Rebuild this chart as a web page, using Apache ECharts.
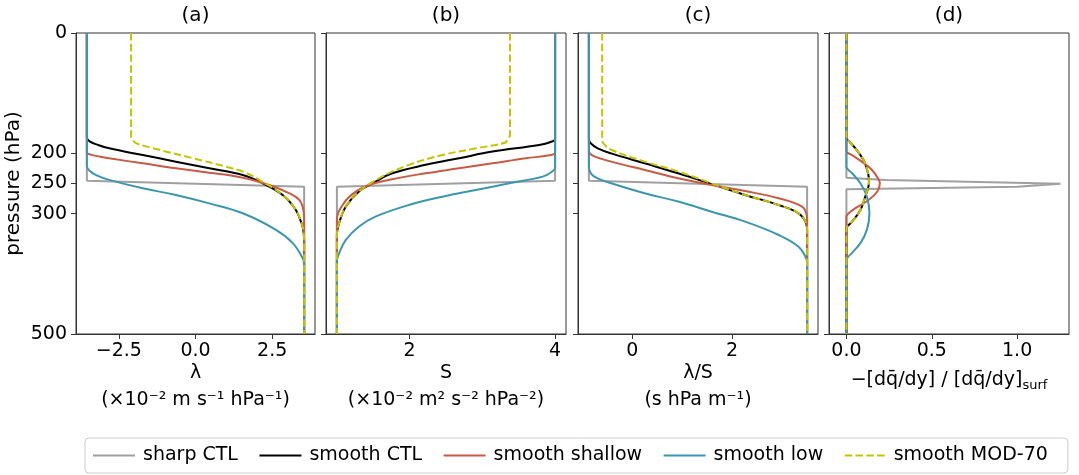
<!DOCTYPE html>
<html>
<head>
<meta charset="utf-8">
<script src="https://cdn.jsdelivr.net/npm/echarts@6/dist/echarts.min.js"></script>
<style>
html,body{margin:0;padding:0;background:#fff;}
#chart{width:1079px;height:475px;}
</style>
</head>
<body>
<div id="chart"></div>
<script>
// ---- data (value, pressure in hPa) ----
const seriesNames = ['sharp CTL', 'smooth CTL', 'smooth shallow', 'smooth low', 'smooth MOD-70'];
const panelTitles = ['(a)', '(b)', '(c)', '(d)'];
const pressureTicks = [0, 200, 250, 300, 500];
const ticksA = [-2.5, 0, 2.5];
const ticksB = [2, 4];
const ticksC = [0, 2];
const ticksD = [0, 0.5, 1.0];

// (a) lambda
const lamSharp = [[-3.54,0],[-3.54,245.3],[3.54,255.3],[3.54,500]];
const lamCTL = [[-3.54,0],[-3.54,174],[-3.45,180],[-3.2,185.5],[-2.81,191.6],[-1.72,202.7],[-0.64,213.7],[0.45,224.8],[1.54,235.9],[2.19,249.7],[2.84,269],[3.27,294],[3.49,321.7],[3.53,335],[3.54,345],[3.54,500]];
const lamShallow = [[-3.54,0],[-3.54,198],[-3.42,202],[-3.1,205.5],[-2.81,208.2],[-1.72,216.5],[-0.64,224.8],[0.45,232],[1.54,240.3],[2.40,252.5],[3.06,266.3],[3.38,277],[3.49,288.5],[3.53,300],[3.54,310],[3.54,500]];
const lamLow = [[-3.54,0],[-3.54,221],[-3.47,228],[-3.24,236],[-2.81,244],[-1.72,258],[-0.64,269],[0.45,283],[1.54,299.5],[2.62,327],[3.17,349],[3.49,374],[3.54,385],[3.54,500]];
const lamMOD = [[-2.10,0],[-2.10,171],[-2.05,177],[-1.94,183],[-1.18,194],[-0.09,208],[0.99,222],[1.63,232],[2.08,244],[2.84,269],[3.27,294],[3.49,321.7],[3.53,335],[3.54,345],[3.54,500]];

// (b) S
const sSharp = [[4,0],[4,245.3],[1,255.3],[1,500]];
const sCTL = [[4,0],[4,176],[3.94,181],[3.78,186],[3.14,197],[2.68,208],[2.22,219],[1.76,233],[1.53,247],[1.30,263.6],[1.12,288.5],[1.03,316],[1.0,335],[1,500]];
const sShallow = [[4,0],[4,198],[3.92,203],[3.6,208],[3.14,216.5],[2.68,224.8],[2.22,233],[1.76,243],[1.39,255],[1.17,272],[1.05,291],[1.01,302],[1,312],[1,500]];
const sLow = [[4,0],[4,224],[3.95,231],[3.83,238.6],[3.37,249.7],[2.91,260.8],[2.45,272],[1.99,285.7],[1.53,305],[1.30,321.7],[1.12,344],[1.03,366],[1,380],[1,500]];
const sMOD = [[3.38,0],[3.38,170],[3.34,177],[3.32,182],[2.91,191.6],[2.45,202.7],[1.99,219],[1.62,238.6],[1.30,263.6],[1.12,288.5],[1.03,316],[1.0,335],[1,500]];

// (c) lambda / S
const rSharp = [[-0.866,0],[-0.866,245.3],[3.50,255.3],[3.50,500]];
const rCTL = [[-0.866,0],[-0.866,177],[-0.82,184],[-0.69,191.6],[-0.42,200],[0.25,216.5],[0.92,233],[1.59,251],[2.26,269],[2.93,285.7],[3.33,299.5],[3.48,316],[3.50,328],[3.50,500]];
const rShallow = [[-0.866,0],[-0.866,197],[-0.78,204],[-0.42,213.7],[0.25,227.6],[0.92,241.4],[1.59,252.5],[2.26,262.5],[2.93,274.6],[3.40,288.5],[3.49,302],[3.50,310],[3.50,500]];
const rLow = [[-0.866,0],[-0.866,222],[-0.82,234],[-0.69,241.4],[-0.42,249.7],[0.25,266.3],[0.92,280],[1.59,296.8],[2.26,313.4],[2.93,335.5],[3.33,355],[3.48,374],[3.50,382],[3.50,500]];
const rMOD = [[-0.60,0],[-0.60,178],[-0.56,185],[-0.42,194],[0.25,213.7],[0.92,230],[1.59,249.7],[2.26,269],[2.93,285.7],[3.33,299.5],[3.48,316],[3.50,328],[3.50,500]];

// (d) normalised PV gradient
const qSharp = [[0,0],[0,240.3],[0.23,244.2],[1.254,250.3],[1.0,255.3],[0,259.7],[0,500]];
const qCTL = [[0,0],[0,175],[0.02,181],[0.053,191.6],[0.10,211],[0.127,233],[0.132,247],[0.127,258],[0.11,272],[0.082,294],[0.033,313.4],[0.01,320],[0,325],[0,500]];
const qShallow = [[0,0],[0,197],[0.012,200],[0.033,202.7],[0.09,213.7],[0.15,227.6],[0.19,244],[0.196,249.7],[0.18,263.6],[0.13,277.4],[0.053,291],[0.015,299],[0,305],[0,500]];
const qLow = [[0,0],[0,222],[0.01,227],[0.033,233],[0.082,249.7],[0.12,272],[0.135,299.5],[0.12,327],[0.082,349],[0.03,366],[0.01,372],[0,377],[0,500]];
const qMOD = [[0,0],[0,175],[0.02,181],[0.053,191.6],[0.10,211],[0.127,233],[0.132,247],[0.127,258],[0.11,272],[0.082,294],[0.033,313.4],[0.01,320],[0,325],[0,500]];

// ---- styling / layout ----
const FONT = 'DejaVu Sans';
const colors = ['#a0a0a0', '#000000', '#c85a46', '#3c97ad', '#c4c400'];
const panelData = [
  [lamSharp, lamCTL, lamShallow, lamLow, lamMOD],
  [sSharp, sCTL, sShallow, sLow, sMOD],
  [rSharp, rCTL, rShallow, rLow, rMOD],
  [qSharp, qCTL, qShallow, qLow, qMOD]
];
const panelLeft = [76, 326, 578, 829];
const panelWidth = [239, 240, 240, 240];
const top0 = 33, h0 = 301;
const xRanges = [[-3.894, 3.894], [0.85, 4.15], [-1.084, 3.718], [-0.102, 1.304]];
const xTicks = [ticksA, ticksB, ticksC, ticksD];
const fmt = [
  v => v.toFixed(1).replace('-', '\u2212'),
  v => String(v),
  v => String(v),
  v => v.toFixed(1)
];
const xNames = [
  'λ\n(×10⁻² m s⁻¹ hPa⁻¹)',
  'S\n(×10⁻² m² s⁻² hPa⁻²)',
  'λ/S\n(s hPa m⁻¹)',
  '{b|\u2212[dq\u0304/dy] / [dq\u0304/dy]}{s|surf}'
];
const solidIcon = 'path://M0,0h42v2h-42z';
const dashIcon = 'path://M0,0h7.5v2h-7.5zM10.8,0h7.5v2h-7.5zM21.6,0h7.5v2h-7.5zM32.4,0h7.5v2h-7.5z';

const grids = [], xAxes = [], yAxes = [], series = [], graphics = [];
for (let i = 0; i < 4; i++) {
  grids.push({left: panelLeft[i], top: top0, width: panelWidth[i], height: h0,
    show: true, borderColor: '#333', borderWidth: 1, backgroundColor: 'transparent',
    containLabel: false, outerBoundsMode: 'none'});
  xAxes.push({
    type: 'value', gridIndex: i, min: xRanges[i][0], max: xRanges[i][1], position: 'bottom',
    splitLine: {show: false},
    axisLine: {show: true, onZero: false, lineStyle: {color: '#333', width: 1}},
    axisTick: {show: true, length: 5, lineStyle: {color: '#333'}, customValues: xTicks[i]},
    axisLabel: {show: true, customValues: xTicks[i], formatter: fmt[i], fontFamily: FONT, fontSize: 19, color: '#000', margin: 8},
    name: xNames[i], nameLocation: 'middle', nameGap: i === 3 ? 34 : 26, nameMoveOverlap: false,
    nameTextStyle: {fontFamily: FONT, fontSize: 19, color: '#000', lineHeight: 27,
      rich: {b: {fontFamily: FONT, fontSize: 19, color: '#000', lineHeight: 24},
             s: {fontFamily: FONT, fontSize: 13, color: '#000', verticalAlign: 'bottom', lineHeight: 24, padding: [8, 0, 0, 0]}}}
  });
  yAxes.push({
    type: 'value', gridIndex: i, min: 0, max: 500, inverse: true,
    splitLine: {show: false},
    axisLine: {show: true, onZero: false, lineStyle: {color: '#333', width: 1}},
    axisTick: {show: true, length: 5, lineStyle: {color: '#333'}, customValues: pressureTicks},
    axisLabel: {show: i === 0, customValues: pressureTicks, fontFamily: FONT, fontSize: 19, color: '#000', margin: 9},
    name: i === 0 ? 'pressure (hPa)' : '', nameLocation: 'middle', nameRotate: 90, nameGap: 52,
    nameTextStyle: {fontFamily: FONT, fontSize: 20, color: '#000'}
  });
  for (let k = 0; k < 5; k++) {
    series.push({
      type: 'line', name: seriesNames[k], xAxisIndex: i, yAxisIndex: i,
      data: panelData[i][k], symbol: 'none', showSymbol: false,
      smooth: k === 0 ? false : 0.4,
      lineStyle: {color: colors[k], width: 2, type: k === 4 ? [7.5, 3.3] : 'solid'},
      itemStyle: {color: colors[k]},
      z: 2 + k, silent: true, animation: false
    });
  }
  graphics.push({type: 'text', x: panelLeft[i] + panelWidth[i] / 2, y: 16,
    style: {text: panelTitles[i], font: '20px "DejaVu Sans"', fill: '#000', textAlign: 'center', textVerticalAlign: 'middle'}});
}

const chart = echarts.init(document.getElementById('chart'), null, {renderer: 'canvas'});
chart.setOption({
  animation: false,
  backgroundColor: '#fff',
  grid: grids, xAxis: xAxes, yAxis: yAxes, series: series, graphic: graphics,
  legend: {
    data: seriesNames.map((n, k) => ({name: n, icon: k === 4 ? dashIcon : solidIcon, itemStyle: {color: colors[k]}})),
    left: 85, top: 438, orient: 'horizontal',
    padding: [8, 20, 8, 8], itemWidth: 42, itemHeight: 2, itemGap: 21.5,
    borderColor: '#cccccc', borderWidth: 1, borderRadius: 4, backgroundColor: '#fff',
    textStyle: {fontFamily: FONT, fontSize: 19, color: '#000', padding: [0, 0, 0, 3], lineHeight: 19},
    selectedMode: false
  }
});
</script>
</body>
</html>
